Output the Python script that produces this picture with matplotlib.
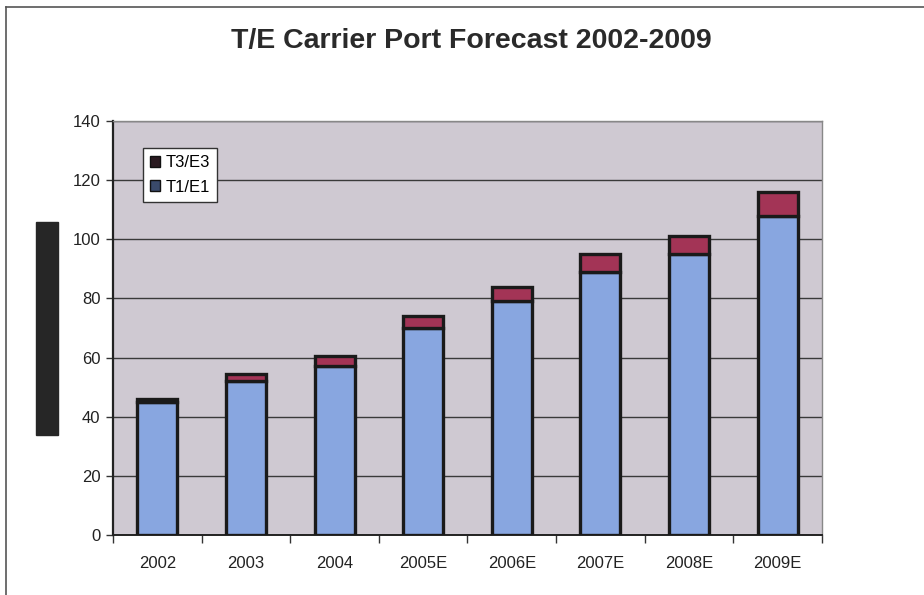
import matplotlib
matplotlib.use("Agg")
import matplotlib.pyplot as plt
import numpy as np
from matplotlib.patches import Rectangle, Patch
from matplotlib.lines import Line2D

plt.rcParams['font.family'] = ['Liberation Sans', 'DejaVu Sans']

years = ["2002", "2003", "2004", "2005E", "2006E", "2007E", "2008E", "2009E"]
t1_e1 = [45, 52, 57, 70, 79, 89, 95, 108]
t3_e3 = [1, 2.5, 3.5, 4, 5, 6, 6, 8]

blue = "#88a6e0"
red = "#a33456"
plot_bg = "#cfc9d2"

fig = plt.figure(figsize=(9.24, 5.95), dpi=100)
fig.patch.set_facecolor("white")

# outer frame (top and left edges)
fig.add_artist(Line2D([6/924, 6/924], [0, 1 - 7/595], transform=fig.transFigure,
                      color="#555555", lw=1.2))
fig.add_artist(Line2D([6/924, 1], [1 - 7/595, 1 - 7/595], transform=fig.transFigure,
                      color="#555555", lw=1.2))

# dark block left of the y axis
fig.add_artist(Rectangle((36/924, 1 - 435/595), 22/924, 213/595,
                         transform=fig.transFigure, color="#262626", zorder=5))

ax = fig.add_axes([113/924, 1 - 535/595, (822 - 113)/924, (535 - 121)/595])
ax.set_facecolor(plot_bg)

x = np.arange(len(years))
w = 0.45
ax.bar(x, t1_e1, width=w, color=blue, edgecolor="#1a1a1a", linewidth=2.4, zorder=3)
ax.bar(x, t3_e3, width=w, bottom=t1_e1, color=red, edgecolor="#1a1a1a",
       linewidth=2.4, zorder=3)

ax.set_xlim(-0.5, len(years) - 0.5)
ax.set_ylim(0, 140)
ax.set_yticks(np.arange(0, 141, 20))
ax.yaxis.grid(True, color="#3a3a3a", lw=1.0, zorder=1)
ax.set_axisbelow(True)

ax.set_xticks(x)
ax.set_xticklabels(years, fontsize=12, color="#222222")
ax.set_xticks(np.arange(-0.5, len(years), 1), minor=True)
ax.tick_params(axis="x", which="major", length=0, pad=15)
ax.tick_params(axis="x", which="minor", length=6, width=1, color="#333333")
ax.tick_params(axis="y", length=5, width=1, color="#333333", labelsize=12,
               labelcolor="#222222", pad=4)

for side in ["top", "right"]:
    ax.spines[side].set_color("#888888")
    ax.spines[side].set_linewidth(1.0)
ax.spines["left"].set_color("#222222")
ax.spines["left"].set_linewidth(1.6)
ax.spines["bottom"].set_color("#222222")
ax.spines["bottom"].set_linewidth(1.4)

handles = [Patch(facecolor="#2a1a20", edgecolor="#111111", label="T3/E3"),
           Patch(facecolor="#3a4a6a", edgecolor="#111111", label="T1/E1")]
leg = ax.legend(handles=handles, loc="upper left", bbox_to_anchor=(0.042, 0.935),
                borderaxespad=0, fontsize=12, frameon=True, fancybox=False,
                framealpha=1, edgecolor="#333333", handlelength=0.6,
                handleheight=0.6, handletextpad=0.3, borderpad=0.45,
                labelspacing=0.55)
leg.get_frame().set_linewidth(1.0)

fig.text(471/924, 1 - 41/595, "T/E Carrier Port Forecast 2002-2009",
         ha="center", va="center", fontsize=20.5, fontweight="bold", color="#2a2a2a")

fig.savefig("out.png", dpi=100)
